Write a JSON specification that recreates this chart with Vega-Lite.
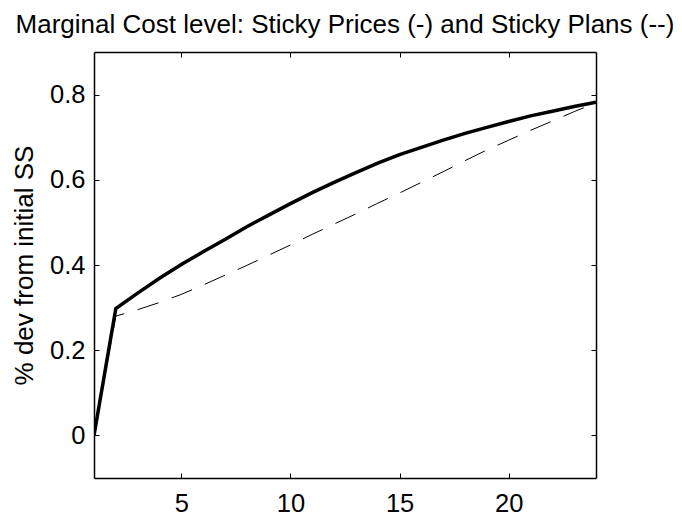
{
  "$schema": "https://vega.github.io/schema/vega-lite/v6.json",
  "width": 502,
  "height": 426,
  "autosize": {"type": "none"},
  "padding": {"left": 94, "top": 52, "right": 86, "bottom": 41},
  "background": "white",
  "config": {
    "view": {"stroke": null},
    "font": "Liberation Sans",
    "axis": {"grid": false, "domainColor": "black", "domainWidth": 1.5, "tickColor": "black", "tickWidth": 1, "labelColor": "black", "labelFont": "Liberation Sans", "labelFontSize": 25.5, "titleFont": "Liberation Sans", "titleFontWeight": "normal", "titleColor": "black"}
  },
  "title": {"text": "Marginal Cost level: Sticky Prices (-) and Sticky Plans (--)", "font": "Liberation Sans", "fontSize": 26, "fontWeight": "normal", "color": "black", "anchor": "middle", "offset": 14},
  "data": {"values": [
    {"t": 1, "v": 0, "s": "Sticky Prices"},
    {"t": 2, "v": 0.298, "s": "Sticky Prices"},
    {"t": 3, "v": 0.334, "s": "Sticky Prices"},
    {"t": 4, "v": 0.369, "s": "Sticky Prices"},
    {"t": 5, "v": 0.401, "s": "Sticky Prices"},
    {"t": 6, "v": 0.431, "s": "Sticky Prices"},
    {"t": 7, "v": 0.460, "s": "Sticky Prices"},
    {"t": 8, "v": 0.490, "s": "Sticky Prices"},
    {"t": 9, "v": 0.517, "s": "Sticky Prices"},
    {"t": 10, "v": 0.544, "s": "Sticky Prices"},
    {"t": 11, "v": 0.570, "s": "Sticky Prices"},
    {"t": 12, "v": 0.594, "s": "Sticky Prices"},
    {"t": 13, "v": 0.617, "s": "Sticky Prices"},
    {"t": 14, "v": 0.639, "s": "Sticky Prices"},
    {"t": 15, "v": 0.659, "s": "Sticky Prices"},
    {"t": 16, "v": 0.676, "s": "Sticky Prices"},
    {"t": 17, "v": 0.693, "s": "Sticky Prices"},
    {"t": 18, "v": 0.709, "s": "Sticky Prices"},
    {"t": 19, "v": 0.723, "s": "Sticky Prices"},
    {"t": 20, "v": 0.737, "s": "Sticky Prices"},
    {"t": 21, "v": 0.750, "s": "Sticky Prices"},
    {"t": 22, "v": 0.761, "s": "Sticky Prices"},
    {"t": 23, "v": 0.772, "s": "Sticky Prices"},
    {"t": 24, "v": 0.782, "s": "Sticky Prices"},
    {"t": 1, "v": 0, "s": "Sticky Plans"},
    {"t": 2, "v": 0.280, "s": "Sticky Plans"},
    {"t": 3, "v": 0.295, "s": "Sticky Plans"},
    {"t": 4, "v": 0.312, "s": "Sticky Plans"},
    {"t": 5, "v": 0.331, "s": "Sticky Plans"},
    {"t": 6, "v": 0.353, "s": "Sticky Plans"},
    {"t": 7, "v": 0.376, "s": "Sticky Plans"},
    {"t": 8, "v": 0.399, "s": "Sticky Plans"},
    {"t": 9, "v": 0.423, "s": "Sticky Plans"},
    {"t": 10, "v": 0.447, "s": "Sticky Plans"},
    {"t": 11, "v": 0.472, "s": "Sticky Plans"},
    {"t": 12, "v": 0.496, "s": "Sticky Plans"},
    {"t": 13, "v": 0.520, "s": "Sticky Plans"},
    {"t": 14, "v": 0.545, "s": "Sticky Plans"},
    {"t": 15, "v": 0.569, "s": "Sticky Plans"},
    {"t": 16, "v": 0.594, "s": "Sticky Plans"},
    {"t": 17, "v": 0.619, "s": "Sticky Plans"},
    {"t": 18, "v": 0.645, "s": "Sticky Plans"},
    {"t": 19, "v": 0.670, "s": "Sticky Plans"},
    {"t": 20, "v": 0.693, "s": "Sticky Plans"},
    {"t": 21, "v": 0.716, "s": "Sticky Plans"},
    {"t": 22, "v": 0.738, "s": "Sticky Plans"},
    {"t": 23, "v": 0.760, "s": "Sticky Plans"},
    {"t": 24, "v": 0.781, "s": "Sticky Plans"}
  ]},
  "layer": [
    {
      "transform": [{"filter": "datum.s == 'Sticky Plans'"}],
      "mark": {"type": "line", "color": "black", "strokeWidth": 1, "strokeDash": [22, 14], "clip": true},
      "encoding": {
        "x": {"field": "t", "type": "quantitative", "scale": {"domain": [1, 24], "nice": false, "zero": false},
          "axis": {"orient": "top", "title": null, "labels": false, "values": [5, 10, 15, 20], "tickSize": -5}},
        "y": {"field": "v", "type": "quantitative", "scale": {"domain": [-0.1, 0.9], "nice": false, "zero": false},
          "axis": {"orient": "right", "title": null, "labels": false, "values": [0, 0.2, 0.4, 0.6, 0.8], "tickSize": -5}}
      }
    },
    {
      "transform": [{"filter": "datum.s == 'Sticky Prices'"}],
      "mark": {"type": "line", "color": "black", "strokeWidth": 3.5, "clip": true},
      "encoding": {
        "x": {"field": "t", "type": "quantitative", "scale": {"domain": [1, 24], "nice": false, "zero": false},
          "axis": {"orient": "bottom", "title": null, "values": [5, 10, 15, 20], "tickSize": -5, "labelPadding": 18}},
        "y": {"field": "v", "type": "quantitative", "scale": {"domain": [-0.1, 0.9], "nice": false, "zero": false},
          "axis": {"orient": "left", "title": "% dev from initial SS", "titleFontSize": 26, "titlePadding": 12, "values": [0, 0.2, 0.4, 0.6, 0.8], "format": ".1~f", "tickSize": -5, "labelPadding": 14}}
      }
    }
  ],
  "resolve": {"axis": {"x": "independent", "y": "independent"}}
}
